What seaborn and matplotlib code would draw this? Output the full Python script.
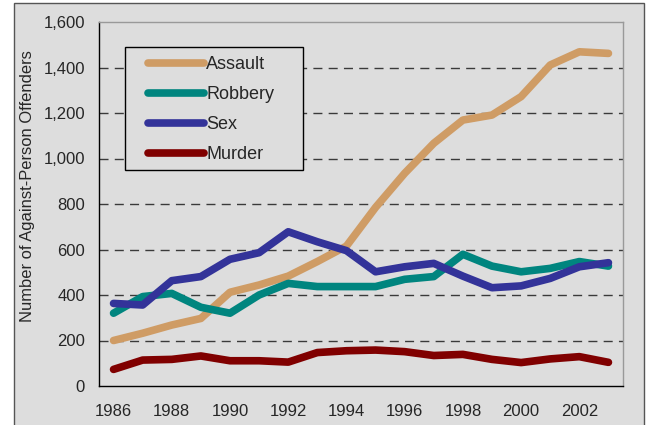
import numpy as np
import pandas as pd
import matplotlib
matplotlib.use("Agg")
import matplotlib.pyplot as plt
import seaborn as sns
from matplotlib.patches import Rectangle
from matplotlib.ticker import FuncFormatter, FixedLocator

years = list(range(1986, 2004))
assault = [200, 232, 268, 297, 412, 444, 483, 547, 615, 785, 935, 1067, 1169, 1191, 1272, 1411, 1469, 1462]
robbery = [320, 393, 407, 346, 320, 400, 451, 437, 437, 437, 469, 481, 579, 527, 502, 517, 547, 527]
sex = [363, 356, 463, 481, 557, 586, 678, 634, 595, 502, 524, 539, 483, 432, 440, 473, 524, 542]
murder = [73, 114, 117, 132, 111, 111, 105, 147, 155, 158, 151, 134, 139, 117, 103, 119, 129, 104]

crimes = ["Assault", "Robbery", "Sex", "Murder"]
colors = ["#CF9C65", "#00857F", "#333399", "#800000"]

df = pd.DataFrame({"Year": years, "Assault": assault, "Robbery": robbery,
                   "Sex": sex, "Murder": murder})
long = df.melt(id_vars="Year", var_name="Crime", value_name="Offenders")

sns.set_style("white", {"axes.facecolor": "#DDDDDD"})
plt.rcParams["font.family"] = ["Liberation Sans", "DejaVu Sans"]

fig = plt.figure(figsize=(6.5, 4.25), dpi=100)
fig.patch.set_facecolor("white")
# outer gray panel
fig.patches.append(Rectangle((14 / 650, -0.05), 630 / 650, 1 - 3 / 425 + 0.05,
                             transform=fig.transFigure, facecolor="#DDDDDD",
                             edgecolor="#555555", lw=1, zorder=-10))

ax = fig.add_axes([99 / 650, 1 - 386 / 425, 524 / 650, 364 / 425])
ax.set_facecolor("#DDDDDD")

sns.lineplot(data=long, x="Year", y="Offenders", hue="Crime", hue_order=crimes,
             palette=colors, linewidth=5.5, ax=ax, legend=True,
             solid_capstyle="round")

ax.set_xlim(1985.5, 2003.5)
ax.set_ylim(0, 1600)
ax.set_yticks(range(0, 1601, 200))
ax.yaxis.set_major_formatter(FuncFormatter(lambda v, p: f"{int(v):,}"))
for v in range(200, 1600, 200):
    ax.axhline(v, color="#3a3a3a", lw=1, ls=(0, (6.5, 4.5)), zorder=0)

ax.xaxis.set_major_locator(FixedLocator(np.arange(1985.5, 2004, 1)))
ax.xaxis.set_minor_locator(FixedLocator(years[::2]))
ax.set_xticklabels([])
ax.set_xticklabels([str(y) for y in years[::2]], minor=True)
ax.tick_params(axis="x", which="major", direction="out", length=5, width=1, color="black")
ax.tick_params(axis="x", which="minor", length=0, pad=13, labelsize=12)
ax.tick_params(axis="y", direction="inout", length=10, width=1, color="black",
               labelsize=12, pad=5)

ax.set_xlabel("")
ax.set_ylabel("Number of Against-Person Offenders", fontsize=11.9)
ax.yaxis.set_label_coords(-(99 - 35) / 524, 0.549)

for s in ["left", "bottom"]:
    ax.spines[s].set_color("black")
    ax.spines[s].set_linewidth(1)
for s in ["top", "right"]:
    ax.spines[s].set_color("#999999")
    ax.spines[s].set_linewidth(1)

handles, labels = ax.get_legend_handles_labels()
for h in handles:
    h.set_linewidth(5.5)
    h.set_solid_capstyle("round")
leg = ax.legend(handles, labels, loc="upper left", bbox_to_anchor=(0.094, 0.906),
                frameon=False, fontsize=13, handlelength=3.1, handletextpad=0.1,
                labelspacing=0.72, borderpad=0, borderaxespad=0)
ax.add_patch(Rectangle(((125 - 99) / 524, (386 - 170) / 364), 178 / 524, 123.3 / 364,
                       transform=ax.transAxes, facecolor="#DDDDDD", edgecolor="black",
                       lw=1, zorder=1.5))

fig.savefig("out.png", dpi=100)
